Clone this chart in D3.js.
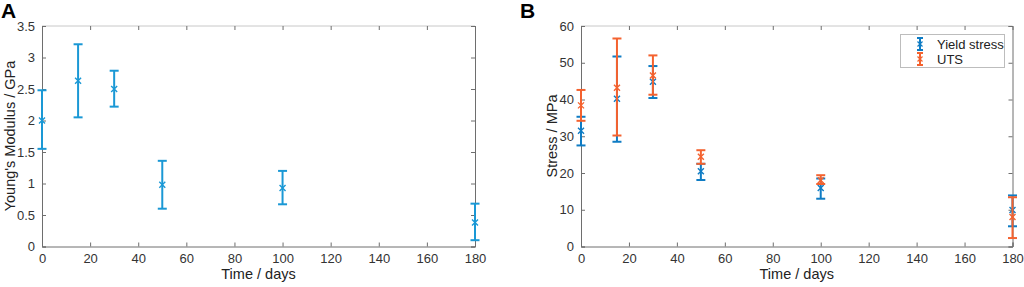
<!DOCTYPE html>
<html><head><meta charset="utf-8">
<script src="https://cdn.jsdelivr.net/npm/d3@7"></script>
<style>body{margin:0;background:#fff}svg{display:block;font-family:"Liberation Sans",Arial,sans-serif}</style>
</head><body><svg id="c" width="1024" height="287"></svg>
<script>
// Panel A: Young's modulus (GPa)
const days = [0, 15, 30, 50, 100, 180];
const modulusMean = [2.0, 2.63, 2.5, 0.98, 0.93, 0.38];
const modulusLow  = [1.55, 2.05, 2.22, 0.6, 0.67, 0.1];
const modulusHigh = [2.48, 3.21, 2.79, 1.36, 1.2, 0.68];
// Panel B: stress (MPa)
const yieldMean = [31.5, 40.2, 44.8, 20.5, 15.9, 9.9];
const yieldLow  = [27.5, 28.5, 40.4, 18.1, 13.0, 5.5];
const yieldHigh = [35.3, 51.7, 49.1, 22.5, 18.5, 13.9];
const utsMean = [38.4, 43.2, 46.5, 24.4, 18.0, 8.0];
const utsLow  = [34.2, 30.2, 41.3, 22.5, 17.0, 2.3];
const utsHigh = [42.6, 56.6, 52.0, 26.2, 19.4, 13.4];
const xTicks = [0, 20, 40, 60, 80, 100, 120, 140, 160, 180];
const yTicksA = [0, 0.5, 1, 1.5, 2, 2.5, 3, 3.5];
const yTicksB = [0, 10, 20, 30, 40, 50, 60];
const legendLabels = ["Yield stress", "UTS"];

const svg = d3.select("#c");
const blueA = "#1a98d5", blueB = "#0f7cc4", orange = "#f4622f";

function panel(opt) {
  const g = svg.append("g");
  const x = d3.scaleLinear().domain([0, 180]).range([opt.left, opt.right]);
  const y = d3.scaleLinear().domain(opt.yDomain).range([246.5, 26]);
  g.append("line").attr("x1", opt.left).attr("x2", opt.right).attr("y1", 26).attr("y2", 26).attr("stroke", "#c8c8c8");
  g.append("g").attr("transform", `translate(0,246.5)`)
    .call(d3.axisBottom(x).tickValues(xTicks).tickSize(-4).tickPadding(7));
  g.append("g").attr("transform", `translate(${opt.left},0)`)
    .call(d3.axisLeft(y).tickValues(opt.yTicks).tickSize(-4).tickPadding(7).tickFormat(d3.format("")));
  g.append("g").attr("transform", `translate(0,26)`).call(d3.axisTop(x).tickValues(xTicks).tickSize(-4).tickFormat(""))
    .select(".domain").remove();
  g.append("g").attr("transform", `translate(${opt.right},0)`).call(d3.axisRight(y).tickValues(opt.yTicks).tickSize(-4).tickFormat(""));
  g.selectAll(".domain").attr("stroke", "#6e6e6e");
  g.selectAll(".tick line").attr("stroke", "#6e6e6e");
  g.selectAll(".tick text").attr("fill", "#333").style("font-size", "13px").style("font-family", "Liberation Sans, Arial, sans-serif");
  g.append("text").attr("x", (opt.left + opt.right) / 2).attr("y", 279).attr("text-anchor", "middle")
    .attr("fill", "#222").style("font-size", "14.5px").text("Time / days");
  g.append("text").attr("transform", `translate(${opt.ylabX},136) rotate(-90)`).attr("text-anchor", "middle")
    .attr("fill", "#222").style("font-size", "14.5px").text(opt.ylabel);
  g.append("text").attr("x", opt.letterX).attr("y", 18).attr("fill", "#000")
    .style("font-size", "21px").style("font-weight", "bold").text(opt.letter);
  return {g, x, y};
}

function errbars(p, mean, low, high, color) {
  const gg = p.g.append("g").attr("stroke", color).attr("stroke-width", 2).attr("fill", "none");
  days.forEach((d, i) => {
    const cx = p.x(d);
    gg.append("line").attr("x1", cx).attr("x2", cx).attr("y1", p.y(low[i])).attr("y2", p.y(high[i]));
    gg.append("line").attr("x1", cx - 4.5).attr("x2", cx + 4.5).attr("y1", p.y(low[i])).attr("y2", p.y(low[i]));
    gg.append("line").attr("x1", cx - 4.5).attr("x2", cx + 4.5).attr("y1", p.y(high[i])).attr("y2", p.y(high[i]));
    const cy = p.y(mean[i]);
    gg.append("path").attr("stroke-width", 1.4)
      .attr("d", `M${cx-3},${cy-3}L${cx+3},${cy+3}M${cx-3},${cy+3}L${cx+3},${cy-3}`);
  });
}

const pA = panel({left: 42, right: 475, yDomain: [0, 3.5], yTicks: yTicksA, ylabel: "Young's Modulus / GPa", ylabX: 15, letter: "A", letterX: 1});
errbars(pA, modulusMean, modulusLow, modulusHigh, blueA);

const pB = panel({left: 581, right: 1012.5, yDomain: [0, 60], yTicks: yTicksB, ylabel: "Stress / MPa", ylabX: 557, letter: "B", letterX: 520});
errbars(pB, yieldMean, yieldLow, yieldHigh, blueB);
errbars(pB, utsMean, utsLow, utsHigh, orange);

const lg = svg.append("g");
lg.append("rect").attr("x", 900.5).attr("y", 34.5).attr("width", 104).attr("height", 33)
  .attr("fill", "#fff").attr("stroke", "#bdbdbd");
[blueB, orange].forEach((c, i) => {
  const cy = 44 + i * 15, cx = 920;
  const l = lg.append("g").attr("stroke", c).attr("stroke-width", 2).attr("fill", "none");
  l.append("line").attr("x1", cx).attr("x2", cx).attr("y1", cy - 6).attr("y2", cy + 6);
  l.append("line").attr("x1", cx - 3).attr("x2", cx + 3).attr("y1", cy - 6).attr("y2", cy - 6);
  l.append("line").attr("x1", cx - 3).attr("x2", cx + 3).attr("y1", cy + 6).attr("y2", cy + 6);
  l.append("path").attr("stroke-width", 1.2).attr("d", `M${cx-2.5},${cy-2.5}L${cx+2.5},${cy+2.5}M${cx-2.5},${cy+2.5}L${cx+2.5},${cy-2.5}`);
  lg.append("text").attr("x", 937).attr("y", cy + 4.5).attr("fill", "#222").style("font-size", "13px").text(legendLabels[i]);
});
</script></body></html>
